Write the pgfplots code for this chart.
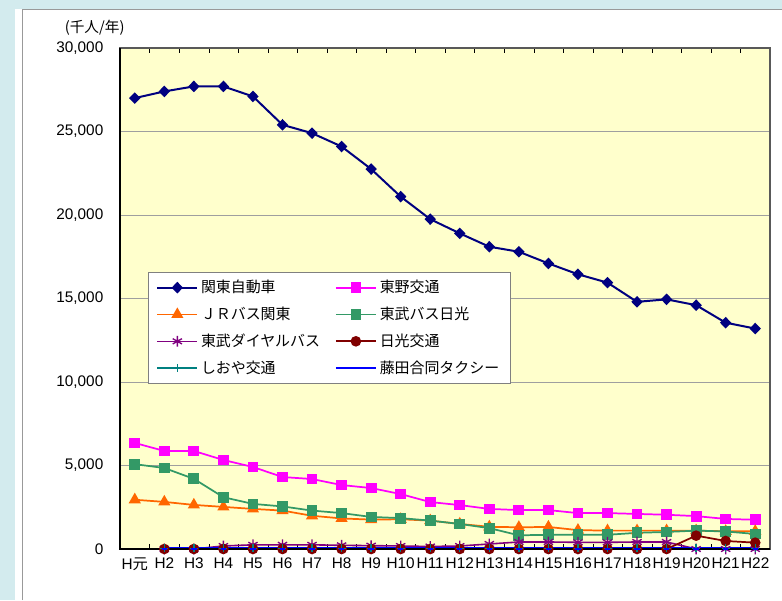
\documentclass[border=0pt]{standalone}
\usepackage{pgfplots}
\pgfplotsset{compat=1.18}
\usepackage{fontspec}
\setmainfont{Liberation Sans}
\newfontfamily\cjk{Noto Sans CJK JP}

\definecolor{framebg}{HTML}{D3EBEE}
\definecolor{plotbg}{HTML}{FFFFCC}
\definecolor{kanto}{HTML}{000080}
\definecolor{tono}{HTML}{FF00FF}
\definecolor{jr}{HTML}{FF6600}
\definecolor{tobunikko}{HTML}{339966}
\definecolor{dial}{HTML}{800080}
\definecolor{nikko}{HTML}{800000}
\definecolor{shioya}{HTML}{008080}
\definecolor{fujita}{HTML}{0000FF}

\begin{document}
\begin{tikzpicture}
% page frame (light blue border, white chart area)
\path[use as bounding box] (-90pt,-38.25pt) rectangle (496.5pt,411.75pt);
\fill[framebg] (-90pt,-38.25pt) rectangle (496.5pt,411.75pt);
\fill[white] (-78.75pt,-38.25pt) rectangle (496.5pt,405pt);
\draw[gray!80, line width=0.6pt] (-73.1pt,-38.25pt) -- (-73.1pt,405pt) -- (496.5pt,405pt);

\begin{axis}[
    scale only axis,
    width=487.5pt,
    height=375.75pt,
    at={(0,0)}, anchor=south west,
    xmin=-0.5, xmax=21.5,
    ymin=0, ymax=30000,
    xtick={0,...,21},
    xticklabels={{H{\cjk 元}},H2,H3,H4,H5,H6,H7,H8,H9,H10,H11,H12,H13,H14,H15,H16,H17,H18,H19,H20,H21,H22},
    minor xtick={0.5,1.5,...,20.5},
    ytick={0,5000,10000,15000,20000,25000,30000},
    scaled y ticks=false,
    /pgf/number format/.cd, 1000 sep={,}, assume math mode=true,
    /pgfplots/.cd,
    major tick length=0pt,
    minor tick length=4pt,
    tick align=inside,
    ymajorgrids,
    grid style={gray!75, line width=0.6pt},
    axis background/.style={fill=plotbg},
    axis line style={gray!70!black, line width=0.9pt},
    tick style={black},
    ticklabel style={font=\fontsize{11.5}{13}\selectfont},
    yticklabel style={xshift=-9pt},
    xticklabel style={yshift=-3pt},
    clip=false,
    legend columns=2,
    legend cell align=left,
    legend style={at={(0.043,0.553)}, anchor=north west,
        draw=gray, fill=white, line width=0.6pt,
        font=\cjk\fontsize{11.2}{13}\selectfont,
        row sep=5.2pt, inner xsep=6pt, inner ysep=4pt,
        /tikz/every even column/.append style={column sep=9pt}},
    legend image code/.code={%
        \draw[mark repeat=2,mark phase=2] plot coordinates {(0pt,0pt) (15pt,0pt) (30pt,0pt)};},
]

% 関東自動車
\addplot[kanto, line width=1.5pt, mark=diamond*, mark size=3.3pt,
    mark options={solid, fill=kanto, xscale=1.3}] coordinates {
    (0,27000) (1,27400) (2,27700) (3,27700) (4,27100) (5,25400) (6,24900)
    (7,24100) (8,22750) (9,21100) (10,19750) (11,18900) (12,18100) (13,17800)
    (14,17100) (15,16450) (16,15950) (17,14800) (18,14950) (19,14600)
    (20,13550) (21,13200)
};
% 東野交通
\addplot[tono, line width=1.3pt, mark=square*, mark size=3.4pt,
    mark options={solid, fill=tono}] coordinates {
    (0,6350) (1,5870) (2,5870) (3,5330) (4,4910) (5,4310) (6,4190) (7,3830)
    (8,3650) (9,3290) (10,2810) (11,2630) (12,2400) (13,2330) (14,2330)
    (15,2150) (16,2150) (17,2100) (18,2050) (19,1970) (20,1800) (21,1750)
};
% ＪＲバス関東
\addplot[jr, line width=1.3pt, mark=triangle*, mark size=4pt,
    mark options={solid, fill=jr}] coordinates {
    (0,2950) (1,2820) (2,2640) (3,2520) (4,2400) (5,2300) (6,1990) (7,1830)
    (8,1760) (9,1780) (10,1700) (11,1500) (12,1330) (13,1300) (14,1320)
    (15,1130) (16,1100) (17,1100) (18,1100) (19,1100) (20,1060) (21,1060)
};
% 東武バス日光
\addplot[tobunikko, line width=1.3pt, mark=square*, mark size=3.4pt,
    mark options={solid, fill=tobunikko}] coordinates {
    (0,5080) (1,4850) (2,4200) (3,3100) (4,2700) (5,2550) (6,2300) (7,2150)
    (8,1920) (9,1850) (10,1700) (11,1500) (12,1250) (13,820) (14,850)
    (15,850) (16,850) (17,970) (18,1020) (19,1100) (20,1050) (21,900)
};
% 東武ダイヤルバス
\addplot[dial, line width=1.2pt, mark=asterisk, mark size=4pt,
    mark options={solid, line width=1pt}] coordinates {
    (1,0) (2,0) (3,180) (4,250) (5,250) (6,250) (7,220) (8,200) (9,180)
    (10,150) (11,180) (12,300) (13,420) (14,420) (15,400) (16,400) (17,420)
    (18,420) (19,0) (20,0) (21,0)
};
% 日光交通
\addplot[nikko, line width=1.3pt, mark=*, mark size=3.3pt,
    mark options={solid, fill=nikko}] coordinates {
    (1,0) (2,0) (3,0) (4,0) (5,0) (6,0) (7,0) (8,0) (9,0) (10,0) (11,0)
    (12,0) (13,0) (14,0) (15,0) (16,0) (17,0) (18,0) (19,800) (20,480) (21,380)
};
% しおや交通
\addplot[shioya, line width=1.2pt, mark=+, mark size=3pt,
    mark options={solid, line width=1pt}] coordinates {
    (1,30) (2,30) (3,30) (4,30) (5,30) (6,30) (7,30) (8,30) (9,30) (10,30)
    (11,30) (12,30) (13,30) (14,30) (15,30) (16,30) (17,30) (18,30) (19,30)
    (20,30) (21,30)
};
% 藤田合同タクシー
\addplot[fujita, line width=1.8pt, mark=-, mark size=2pt,
    mark options={solid, line width=1.5pt}] coordinates {
    (1,20) (2,20) (3,20) (4,20) (5,20) (6,20) (7,20) (8,20) (9,20) (10,20)
    (11,20) (12,20) (13,20) (14,20) (15,20) (16,20) (17,20) (18,20) (19,20)
    (20,20) (21,20)
};

\legend{関東自動車, 東野交通, ＪＲバス関東, 東武バス日光,
    東武ダイヤルバス, 日光交通, しおや交通, 藤田合同タクシー}

% black value and category axes
\draw[black, line width=0.9pt] (rel axis cs:0,1) -- (rel axis cs:0,0) -- (rel axis cs:1,0);
\node[anchor=south, font=\cjk\fontsize{11}{13}\selectfont]
    at (rel axis cs:0,1) [xshift=-19pt, yshift=6pt] {(千人/年)};
\end{axis}
\end{tikzpicture}
\end{document}
